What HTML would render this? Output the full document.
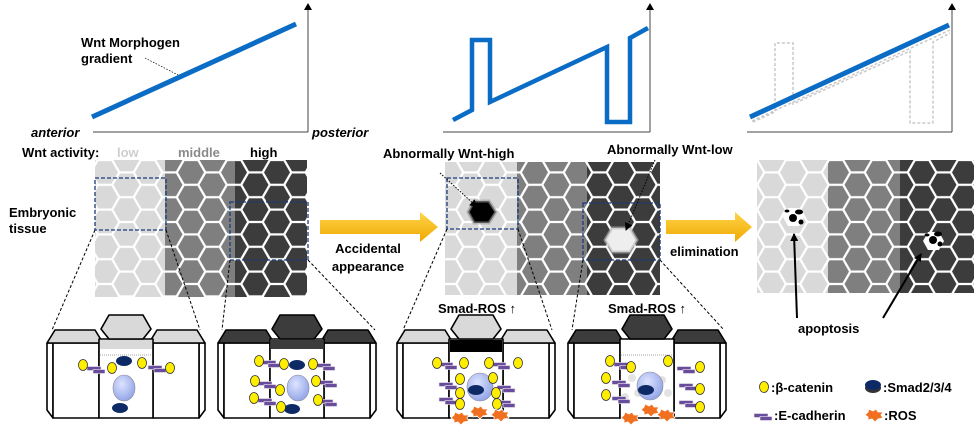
<!DOCTYPE html>
<html><head><meta charset="utf-8"><style>
html,body{margin:0;padding:0;background:#fff;}
svg{display:block;font-family:"Liberation Sans",Arial,sans-serif;font-weight:bold;}
</style></head><body>
<svg width="974" height="433" viewBox="0 0 974 433" xmlns="http://www.w3.org/2000/svg">
<defs>
<g id="hx"><polygon points="-13,0 -6.5,-11.26 6.5,-11.26 13,0 6.5,11.26 -6.5,11.26"/></g>
<g id="hset">
<use href="#hx" x="10" y="12.4"/><use href="#hx" x="31.5" y="0"/><use href="#hx" x="31.5" y="24.8"/><use href="#hx" x="-11.5" y="0"/><use href="#hx" x="-11.5" y="24.8"/><use href="#hx" x="53" y="12.4"/>
</g>
<pattern id="pL" patternUnits="userSpaceOnUse" x="95" y="160" width="43" height="24.8"><use href="#hset" fill="#d9d9d9"/></pattern>
<pattern id="pM" patternUnits="userSpaceOnUse" x="95" y="160" width="43" height="24.8"><use href="#hset" fill="#7f7f7f"/></pattern>
<pattern id="pD" patternUnits="userSpaceOnUse" x="95" y="160" width="43" height="24.8"><use href="#hset" fill="#3c3c3c"/></pattern>
<linearGradient id="ya" x1="0" y1="0" x2="0" y2="1"><stop offset="0" stop-color="#ffd54a"/><stop offset="1" stop-color="#f0a800"/></linearGradient>
<radialGradient id="nuc" cx="0.4" cy="0.35" r="0.7"><stop offset="0" stop-color="#dde4ff"/><stop offset="1" stop-color="#8fa2e6"/></radialGradient>
<marker id="ah" markerWidth="8" markerHeight="8" refX="7" refY="4" orient="auto" markerUnits="userSpaceOnUse"><path d="M0,0 L8,4 L0,8 z" fill="#000"/></marker>
<symbol id="blk" viewBox="0 0 158 106" width="158" height="106" overflow="visible">
<g stroke="#000" stroke-width="1.6" stroke-linejoin="round">
<polygon points="0,30 6,30 6,105 0,97" fill="#fff"/>
<rect x="6" y="30" width="46" height="75" fill="#fff"/>
<polygon points="0,30 8,17 48,17 56,30" fill="currentColor"/>
<polygon points="158,30 152,30 152,105 158,97" fill="#fff"/>
<rect x="106" y="30" width="46" height="75" fill="#fff"/>
<polygon points="102,30 110,17 150,17 158,30" fill="currentColor"/>
<rect x="52" y="26" width="54" height="79" fill="#fff"/>
<polygon points="54,16 62,2 96,2 104,16 96,26 62,26" fill="currentColor"/>
</g>
</symbol>
<g id="yc"><ellipse cx="0" cy="0" rx="4.5" ry="5.5" fill="#ffee00" stroke="#333" stroke-width="0.8"/></g>
<g id="ec"><rect x="-8" y="-2.5" width="14" height="4" fill="#6a4c9c" stroke="#eee" stroke-width="0.6"/><rect x="-2" y="0.5" width="12" height="4" fill="#6a4c9c" stroke="#eee" stroke-width="0.6"/></g>
<g id="sm"><ellipse cx="0" cy="0" rx="8" ry="5" fill="#0e2a66"/></g>
<g id="ros"><polygon points="-9,0 -6,-3 -5,-6 -1,-4 2,-6 4,-3 9,-3 7,0 9,3 4,4 1,7 -2,4 -6,5 -6,2" fill="#f07020" stroke="#fff" stroke-width="0.8"/></g>
</defs>

<!-- Graph 1 -->
<line x1="93" y1="132" x2="308" y2="132" stroke="#444" stroke-width="1"/>
<line x1="308" y1="132" x2="308" y2="8" stroke="#444" stroke-width="1"/>
<path d="M304,10 L308,3 L312,10z" fill="#000"/>
<line x1="92" y1="117" x2="296" y2="24" stroke="#0a6cc4" stroke-width="5"/>
<line x1="145" y1="58" x2="178" y2="75" stroke="#000" stroke-width="0.7" stroke-dasharray="1.5,1.5"/>
<text x="81" y="47" font-size="13">Wnt Morphogen</text>
<text x="81" y="63" font-size="13">gradient</text>
<text x="31" y="137" font-size="13" font-style="italic">anterior</text>
<text x="312" y="137" font-size="13" font-style="italic">posterior</text>
<text x="22" y="157" font-size="13">Wnt activity:</text>
<text x="117" y="157" font-size="13" fill="#cfcfcf">low</text>
<text x="178" y="157" font-size="13" fill="#8a8a8a">middle</text>
<text x="250" y="157" font-size="13">high</text>

<!-- Graph 2 -->
<line x1="443" y1="132" x2="650" y2="132" stroke="#444" stroke-width="1"/>
<line x1="650" y1="132" x2="650" y2="8" stroke="#444" stroke-width="1"/>
<path d="M646,10 L650,3 L654,10z" fill="#000"/>
<polyline points="453,120 472,110 472,40 490,40 490,102 607,47 607,122 630,122 630,38 648,28" fill="none" stroke="#0a6cc4" stroke-width="4.5"/>

<!-- Graph 3 -->
<line x1="747" y1="132" x2="952" y2="132" stroke="#444" stroke-width="1"/>
<line x1="952" y1="132" x2="952" y2="8" stroke="#444" stroke-width="1"/>
<path d="M948,10 L952,3 L956,10z" fill="#000"/>
<g fill="none" stroke="#c8c8c8" stroke-width="1.5" stroke-dasharray="3,2">
<polyline points="753,122 775,112 775,43 793,43 793,104 910,51 910,123 933,123 933,42 950,33"/>
<line x1="752" y1="121" x2="950" y2="30"/>
</g>
<line x1="750" y1="117" x2="949" y2="25" stroke="#0a6cc4" stroke-width="5"/>
<text x="607" y="154" font-size="13">Abnormally Wnt-low</text>
<text x="383" y="158" font-size="13">Abnormally Wnt-high</text>

<!-- Tissue 1 -->
<rect x="95" y="160" width="70" height="137" fill="url(#pL)"/>
<rect x="165" y="160" width="70" height="137" fill="url(#pM)"/>
<rect x="235" y="160" width="72" height="137" fill="url(#pD)"/>
<rect x="95" y="178" width="71" height="52" fill="none" stroke="#1a3a7a" stroke-width="1.3" stroke-dasharray="4,2"/>
<rect x="230" y="202" width="78" height="58" fill="none" stroke="#1a3a7a" stroke-width="1.3" stroke-dasharray="4,2"/>
<text x="9" y="217" font-size="13">Embryonic</text>
<text x="9" y="233" font-size="13">tissue</text>

<!-- Tissue 2 -->
<rect x="445" y="162" width="72" height="133" fill="url(#pL)"/>
<rect x="517" y="162" width="70" height="133" fill="url(#pM)"/>
<rect x="587" y="162" width="73" height="133" fill="url(#pD)"/>
<polygon points="468,212 474,201 489,201 496,212 489,223 474,223" fill="#000" stroke="#999" stroke-width="3" stroke-opacity="0.6"/>
<polygon points="605,240 612,228 630,228 637,240 630,252 612,252" fill="#eee" stroke="#bbb" stroke-width="3" stroke-opacity="0.6"/>
<rect x="447" y="178" width="71" height="51" fill="none" stroke="#1a3a7a" stroke-width="1.3" stroke-dasharray="4,2"/>
<rect x="583" y="203" width="77" height="57" fill="none" stroke="#1a3a7a" stroke-width="1.3" stroke-dasharray="4,2"/>
<line x1="440" y1="173" x2="477" y2="207" stroke="#000" stroke-width="1" stroke-dasharray="1.5,1.5" marker-end="url(#ah)"/>
<line x1="655" y1="160" x2="626" y2="230" stroke="#000" stroke-width="1" stroke-dasharray="1.5,1.5" marker-end="url(#ah)"/>

<!-- Tissue 3 -->
<rect x="757" y="160" width="71" height="133" fill="url(#pL)"/>
<rect x="828" y="160" width="72" height="133" fill="url(#pM)"/>
<rect x="900" y="160" width="74" height="133" fill="url(#pD)"/>
<polygon points="783,217 788,208 799,208 804,217 799,226 788,226" fill="#fff"/>
<polygon points="923,241 928,232 939,232 944,241 939,250 928,250" fill="#fff"/>
<g fill="#000"><circle cx="793" cy="218" r="4"/><ellipse cx="799" cy="212" rx="4" ry="2.5"/><circle cx="801" cy="222" r="2.5"/><ellipse cx="787" cy="211" rx="2.5" ry="1.5"/>
<circle cx="933" cy="240" r="4"/><ellipse cx="938" cy="234" rx="4" ry="2.5"/><circle cx="940" cy="244" r="2.5"/><ellipse cx="927" cy="235" rx="2.5" ry="1.5"/></g>
<line x1="797" y1="318" x2="794" y2="234" stroke="#000" stroke-width="2" marker-end="url(#ah)"/>
<line x1="883" y1="318" x2="921" y2="254" stroke="#000" stroke-width="2" marker-end="url(#ah)"/>
<text x="798" y="333" font-size="13">apoptosis</text>

<!-- Big arrows -->
<polygon points="320,220 420,220 420,212 438,227 420,242 420,234 320,234" fill="url(#ya)"/>
<text x="368" y="253" font-size="13" text-anchor="middle">Accidental</text>
<text x="368" y="271" font-size="13" text-anchor="middle">appearance</text>
<polygon points="666,220 735,220 735,212 752,227 735,242 735,234 666,234" fill="url(#ya)"/>
<text x="670" y="256" font-size="13">elimination</text>

<!-- zoom dashed lines -->
<g stroke="#000" stroke-width="1" stroke-dasharray="3,2">
<line x1="95" y1="230" x2="52" y2="330"/><line x1="166" y1="230" x2="200" y2="330"/>
<line x1="230" y1="260" x2="222" y2="330"/><line x1="308" y1="260" x2="375" y2="330"/>
<line x1="447" y1="229" x2="403" y2="330"/><line x1="518" y1="229" x2="552" y2="330"/>
<line x1="583" y1="260" x2="572" y2="330"/><line x1="660" y1="260" x2="724" y2="330"/>
</g>
<text x="477" y="313" font-size="13" text-anchor="middle">Smad-ROS ↑</text>
<text x="647" y="313" font-size="13" text-anchor="middle">Smad-ROS ↑</text>

<!-- Blocks -->
<use href="#blk" x="47" y="313" color="#d9d9d9"/>
<rect x="100" y="340" width="52" height="9" fill="#d9d9d9"/>
<line x1="100" y1="355" x2="152" y2="355" stroke="#555" stroke-width="0.6" stroke-dasharray="1,1"/>
<use href="#blk" x="218" y="313" color="#3c3c3c"/>
<rect x="271" y="340" width="52" height="9" fill="#3c3c3c"/>
<use href="#blk" x="397" y="313" color="#d9d9d9"/>
<rect x="450" y="340" width="52" height="12" fill="#000"/>
<use href="#blk" x="568" y="313" color="#3c3c3c"/>
<line x1="621" y1="355" x2="673" y2="355" stroke="#555" stroke-width="0.6" stroke-dasharray="1,1"/>

<!-- block1 contents -->
<ellipse cx="124" cy="388" rx="11" ry="13" fill="url(#nuc)" stroke="#889" stroke-width="0.6"/>
<use href="#sm" x="124" y="361"/><use href="#sm" x="120" y="408"/>
<use href="#ec" x="95" y="369"/><use href="#ec" x="156" y="368"/>
<use href="#yc" x="83" y="365"/><use href="#yc" x="112" y="368"/><use href="#yc" x="142" y="363"/><use href="#yc" x="170" y="368"/>
<!-- block2 -->
<ellipse cx="298" cy="388" rx="11" ry="13" fill="url(#nuc)" stroke="#889" stroke-width="0.6"/>
<use href="#sm" x="297" y="365"/><use href="#sm" x="292" y="409"/>
<use href="#ec" x="270" y="363"/><use href="#ec" x="266" y="384"/><use href="#ec" x="266" y="401"/>
<use href="#ec" x="325" y="366"/><use href="#ec" x="327" y="383"/><use href="#ec" x="327" y="402"/>
<use href="#yc" x="259" y="361"/><use href="#yc" x="284" y="364"/><use href="#yc" x="313" y="364"/>
<use href="#yc" x="255" y="381"/><use href="#yc" x="280" y="390"/><use href="#yc" x="316" y="381"/>
<use href="#yc" x="254" y="398"/><use href="#yc" x="281" y="407"/><use href="#yc" x="318" y="400"/>
<!-- block3 -->
<ellipse cx="480" cy="387" rx="13" ry="14" fill="url(#nuc)" stroke="#889" stroke-width="0.6"/>
<use href="#sm" x="476" y="390"/>
<use href="#ec" x="447" y="365"/><use href="#ec" x="500" y="365"/><use href="#ec" x="447" y="385"/><use href="#ec" x="505" y="388"/><use href="#ec" x="447" y="400"/><use href="#ec" x="505" y="403"/>
<use href="#yc" x="437" y="363"/><use href="#yc" x="464" y="363"/><use href="#yc" x="489" y="363"/><use href="#yc" x="518" y="363"/>
<use href="#yc" x="460" y="379"/><use href="#yc" x="493" y="378"/><use href="#yc" x="460" y="393"/><use href="#yc" x="496" y="393"/><use href="#yc" x="460" y="404"/><use href="#yc" x="497" y="404"/>
<use href="#ros" x="460" y="418"/><use href="#ros" x="479" y="412"/><use href="#ros" x="500" y="415"/>
<!-- block4 -->
<g fill="#ddd" opacity="0.8"><circle cx="632" cy="378" r="4"/><circle cx="638" cy="393" r="4"/><circle cx="662" cy="380" r="4"/><circle cx="668" cy="393" r="4"/><circle cx="625" cy="397" r="4"/></g>
<ellipse cx="650" cy="386" rx="13" ry="14" fill="url(#nuc)" stroke="#889" stroke-width="0.6"/>
<use href="#sm" x="646" y="390"/>
<use href="#ec" x="622" y="365"/><use href="#ec" x="620" y="383"/><use href="#ec" x="620" y="399"/><use href="#ec" x="685" y="369"/><use href="#ec" x="687" y="386"/><use href="#ec" x="687" y="403"/>
<use href="#yc" x="610" y="361"/><use href="#yc" x="631" y="367"/><use href="#yc" x="668" y="361"/><use href="#yc" x="700" y="367"/>
<use href="#yc" x="606" y="378"/><use href="#yc" x="700" y="389"/><use href="#yc" x="606" y="395"/><use href="#yc" x="700" y="407"/>
<use href="#ros" x="630" y="418"/><use href="#ros" x="650" y="410"/><use href="#ros" x="666" y="415"/>

<!-- Legend -->
<use href="#yc" x="764" y="387"/>
<text x="771" y="392" font-size="13">:β-catenin</text>
<ellipse cx="873" cy="388" rx="8" ry="5" fill="#333"/><ellipse cx="873" cy="385" rx="8" ry="5" fill="#0e2a66"/>
<text x="883" y="392" font-size="13">:Smad2/3/4</text>
<use href="#ec" x="762" y="416"/>
<text x="774" y="420" font-size="13">:E-cadherin</text>
<use href="#ros" x="874" y="415"/>
<text x="884" y="420" font-size="13">:ROS</text>
</svg>
</body></html>
